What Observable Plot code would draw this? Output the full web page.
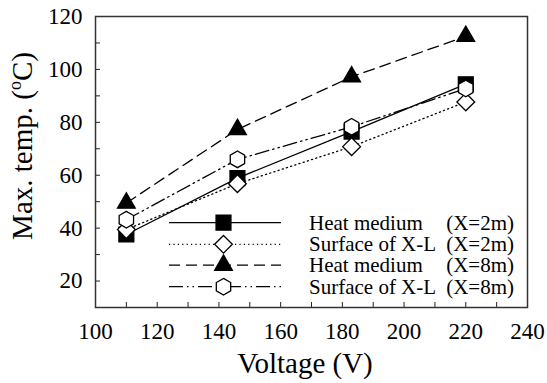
<!DOCTYPE html>
<html><head><meta charset="utf-8">
<script src="https://cdn.jsdelivr.net/npm/d3@7"></script>
<script src="https://cdn.jsdelivr.net/npm/@observablehq/plot@0.6"></script>
<style>
body{margin:0;background:#fff}
svg, svg text, svg tspan {font-family:"Liberation Serif","Times New Roman",Times,serif !important;}
</style>
</head><body><div id="chart"></div>
<script>
// ---- data ----
const voltages = [110, 146, 183, 220];
const heat2m = [37.6, 58.9, 76.5, 94.4];
const surf2m = [39.5, 56.8, 70.8, 87.7];
const heat8m = [49.5, 77.3, 97.2, 112.5];
const surf8m = [43.2, 66.0, 78.3, 92.8];
const seriesNames = ["Heat medium", "Surface of X-L", "Heat medium", "Surface of X-L"];
const seriesTags = ["(X=2m)", "(X=2m)", "(X=8m)", "(X=8m)"];
const xMajorTicks = [100, 120, 140, 160, 180, 200, 220, 240];
const xMinorTicks = [100, 110, 120, 130, 140, 150, 160, 170, 180, 190, 200, 210, 220, 230, 240];
const yMajorTicks = [20, 40, 60, 80, 100, 120];
const yMinorTicks = [10, 20, 30, 40, 50, 60, 70, 80, 90, 100, 110, 120];
const xTitle = "Voltage (V)";
const yTitleParts = ["Max. temp. (", "o", "C)"];

// ---- styles ----
const hexagon = {
  draw(ctx, size) {
    const R = Math.sqrt(size / Math.PI);
    for (let i = 0; i < 6; i++) {
      const a = (-90 + 60 * i) * Math.PI / 180;
      const px = R * Math.cos(a), py = R * Math.sin(a);
      if (i === 0) ctx.moveTo(px, py); else ctx.lineTo(px, py);
    }
    ctx.closePath();
  }
};
const seriesValues = [heat2m, surf2m, heat8m, surf8m];
const styles = [
  {symbol: "square", d3sym: d3.symbolSquare, fill: "black", dash: null, r: 8.4},
  {symbol: "diamond2", d3sym: d3.symbolDiamond2, fill: "white", dash: "1.2,3.2", r: 8},
  {symbol: "triangle", d3sym: d3.symbolTriangle, fill: "black", dash: "11,6", r: 6.6},
  {symbol: hexagon, d3sym: hexagon, fill: "white", dash: "14,4,1.5,4,1.5,4", r: 8.3}
];

const rows = [];
seriesValues.forEach((vals, s) => vals.forEach((v, i) => rows.push({s, x: voltages[i], y: v})));

const W = 547, H = 383;
const mL = 95, mR = 20, mT = 16, mB = 76;
const FONT = '"Liberation Serif","Times New Roman",Times,serif';

const marks = [];
styles.forEach((st, s) => {
  marks.push(Plot.line(rows.filter(d => d.s === s), {x: "x", y: "y", stroke: "black", strokeWidth: 1.3, strokeDasharray: st.dash}));
});
styles.forEach((st, s) => {
  marks.push(Plot.dot(rows.filter(d => d.s === s), {x: "x", y: "y", symbol: () => st.symbol, r: st.r, fill: st.fill, stroke: "black", strokeWidth: 1.3}));
});

const plot = Plot.plot({
  width: W, height: H,
  marginLeft: mL, marginRight: mR, marginTop: mT, marginBottom: mB,
  style: {background: "white"},
  x: {domain: [100, 240]},
  y: {domain: [10, 120]},
  symbol: {type: "identity"},
  marks: [
    Plot.axisX({ticks: xMinorTicks, tickSize: -5, tickFormat: () => "", label: null, stroke: "#222"}),
    Plot.axisY({ticks: yMinorTicks, tickSize: -5, tickFormat: () => "", label: null, stroke: "#222"}),
    Plot.axisX({ticks: xMajorTicks, tickSize: 0, tickPadding: 15, fontSize: 23, label: null, fill: "black"}),
    Plot.axisY({ticks: yMajorTicks, tickSize: 0, tickPadding: 13, fontSize: 23, label: null, fill: "black"}),
    ...marks,
    Plot.frame({stroke: "#333", strokeWidth: 1.5})
  ]
});

plot.setAttribute("font-family", FONT);
document.getElementById("chart").appendChild(plot);
const svg = d3.select(plot);
svg.selectAll("text").attr("font-family", FONT);
const xs = plot.scale("x");
const cx = (xs.range[0] + xs.range[1]) / 2;

// x title
svg.append("text")
  .attr("x", cx - 6).attr("y", 373)
  .attr("text-anchor", "middle").attr("font-family", FONT)
  .attr("font-size", 29).attr("fill", "black")
  .text(xTitle);

// y title
const yt = svg.append("text")
  .attr("transform", `translate(32,146) rotate(-90)`)
  .attr("text-anchor", "middle").attr("font-family", FONT)
  .attr("font-size", 29).attr("fill", "black");
yt.append("tspan").text(yTitleParts[0]);
yt.append("tspan").attr("font-size", 18).attr("dy", -11).text(yTitleParts[1]);
yt.append("tspan").attr("dy", 11).text(yTitleParts[2]);

// legend
const lg = svg.append("g");
const rowY = [222.7, 244.3, 265.2, 286.7];
styles.forEach((st, s) => {
  const y = rowY[s];
  lg.append("line").attr("x1", 169).attr("x2", 281).attr("y1", y).attr("y2", y)
    .attr("stroke", "black").attr("stroke-width", 1.3)
    .attr("stroke-dasharray", st.dash);
  lg.append("path").attr("transform", `translate(223.5,${y})`)
    .attr("d", d3.symbol(st.d3sym, Math.PI * st.r * st.r)())
    .attr("fill", st.fill).attr("stroke", "black").attr("stroke-width", 1.3);
  lg.append("text").attr("x", 309).attr("y", y + 7).attr("font-size", 21).attr("fill", "black")
    .attr("text-anchor", "start").attr("font-family", FONT)
    .text(seriesNames[s]);
  lg.append("text").attr("x", 514).attr("y", y + 7).attr("font-size", 21).attr("fill", "black")
    .attr("text-anchor", "end").attr("font-family", FONT).text(seriesTags[s]);
});
</script>
</body></html>
